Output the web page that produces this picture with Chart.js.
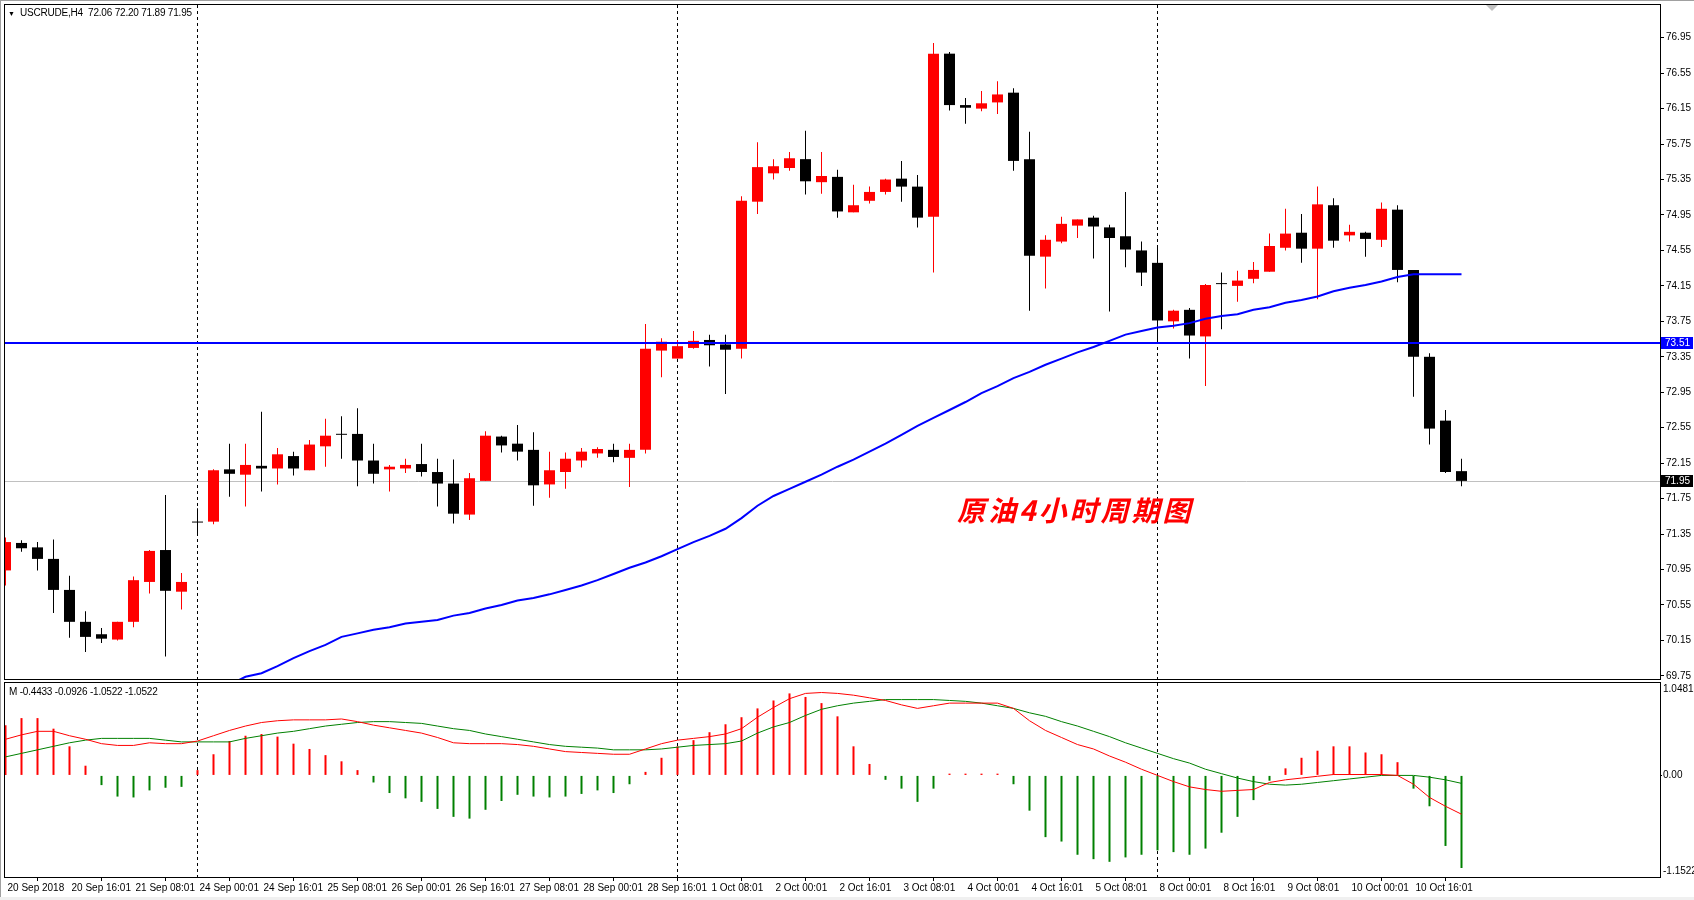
<!DOCTYPE html>
<html lang="zh">
<head>
<meta charset="UTF-8">
<title>USCRUDE,H4</title>
<script src="https://cdn.jsdelivr.net/npm/chart.js"></script>
<style>
  body { margin: 0; width: 1694px; height: 900px; overflow: hidden; position: relative; background: #fff;
         font-family: "Liberation Sans", Arial, sans-serif; }
  #main { position: absolute; left: 0; top: 0; }
  #macd { position: absolute; left: 0; top: 682px; }
  .hdr { position: absolute; font-size: 10px; color: #000; white-space: pre; line-height: 12px; letter-spacing: -0.2px; }
  #note { position: absolute; left: 957px; top: 489px; color: #f00; white-space: pre;
          font: italic bold 28px "Noto Sans CJK SC", sans-serif; letter-spacing: 3px; }
  /* window frame bits */
  .edge { position: absolute; background: #a0a0a0; }
</style>
</head>
<body>
<canvas id="main" width="1694" height="682"></canvas>
<canvas id="macd" width="1694" height="218"></canvas>
<div class="edge" style="left:0; top:0; width:1694px; height:1px;"></div>
<div class="edge" style="left:0; top:0; width:1px; height:900px;"></div>
<div class="edge" style="left:0; top:897px; width:1694px; height:3px; background:#f0f0f0;"></div>
<div class="hdr" style="left:8px; top:7px;"><span style="font-size:7px">▼</span>  USCRUDE,H4  72.06 72.20 71.89 71.95</div>
<div class="hdr" style="left:9px; top:686px;">M -0.4433 -0.0926 -1.0522 -1.0522</div>
<div id="note">原油4小时周期图</div>

<script>
// ---- data: one entry per 4h bar, 20 Sep 2018 00:00 .. 11 Oct 2018 04:00 ----
const opens  = [70.94,71.25,71.20,71.07,70.72,70.36,70.22,70.16,70.36,70.81,71.17,70.70,
                71.48,71.49,72.08,72.02,72.12,72.09,72.23,72.07,72.34,72.47,72.48,72.18,
                72.08,72.09,72.14,72.05,71.92,71.57,71.95,72.45,72.37,72.30,71.91,72.05,
                72.18,72.26,72.30,72.21,72.30,73.42,73.33,73.45,73.54,73.49,73.44,75.10,
                75.42,75.48,75.58,75.32,75.38,74.98,75.11,75.21,75.36,75.27,74.93,76.77,
                76.19,76.15,76.22,76.33,75.58,74.48,74.65,74.83,74.92,74.81,74.71,74.55,
                74.41,73.75,73.88,73.58,74.17,74.15,74.23,74.31,74.58,74.75,74.57,75.06,
                74.72,74.75,74.67,75.01,74.33,73.35,72.63,72.06];
const highs  = [71.31,71.28,71.26,71.29,70.88,70.48,70.29,70.36,70.87,71.17,71.79,70.91,
                71.64,72.08,72.37,72.37,72.73,72.32,72.28,72.41,72.65,72.68,72.77,72.37,
                72.13,72.20,72.37,72.20,72.19,72.04,72.51,72.46,72.58,72.50,72.28,72.27,
                72.32,72.33,72.37,72.37,73.72,73.56,73.54,73.64,73.60,73.60,75.16,75.77,
                75.58,75.66,75.90,75.66,75.46,75.29,75.27,75.36,75.56,75.40,76.89,76.79,
                76.27,76.35,76.46,76.38,75.89,74.72,74.93,74.90,74.94,74.84,75.21,74.65,
                74.58,73.88,73.90,74.17,74.30,74.32,74.42,74.74,75.02,74.96,75.27,75.14,
                74.84,74.76,75.09,75.06,74.33,73.39,72.75,72.20];
const lows   = [70.77,71.15,70.94,70.46,70.18,70.02,70.12,70.15,70.30,70.68,69.97,70.50,
                71.34,71.46,71.77,71.66,71.83,71.91,72.01,72.07,72.11,72.20,71.89,71.92,
                71.83,72.04,72.00,71.66,71.47,71.51,71.95,72.27,72.18,71.67,71.76,71.86,
                72.10,72.21,72.16,71.88,72.26,73.12,73.33,73.44,73.24,72.93,73.33,74.96,
                75.35,75.45,75.18,75.19,74.92,74.98,75.08,75.18,75.10,74.81,74.30,76.13,
                75.98,76.12,76.09,75.45,73.87,74.12,74.63,74.69,74.46,73.86,74.36,74.15,
                73.52,73.67,73.33,73.02,73.66,73.97,74.18,74.31,74.55,74.41,74.00,74.58,
                74.65,74.48,74.59,74.19,72.90,72.36,72.04,71.89];
const closes = [71.26,71.19,71.07,70.72,70.36,70.19,70.17,70.36,70.83,71.16,70.71,70.81,
                71.48,72.07,72.03,72.13,72.09,72.25,72.09,72.36,72.46,72.47,72.18,72.03,
                72.11,72.13,72.05,71.92,71.58,71.98,72.46,72.35,72.28,71.90,72.07,72.20,
                72.28,72.31,72.22,72.30,73.44,73.52,73.47,73.53,73.48,73.43,75.11,75.49,
                75.50,75.59,75.33,75.39,74.99,75.06,75.21,75.35,75.27,74.92,76.77,76.19,
                76.16,76.21,76.31,75.56,74.49,74.67,74.85,74.90,74.82,74.69,74.56,74.30,
                73.76,73.87,73.59,74.16,74.17,74.21,74.33,74.60,74.74,74.57,75.07,74.66,
                74.76,74.68,75.02,74.33,73.35,72.54,72.05,71.95];
// moving average (blue), bars 14..91
const maStart = 14;
const maValues = [69.65,69.74,69.78,69.86,69.95,70.03,70.10,70.19,70.23,70.27,70.30,70.34,
                  70.36,70.38,70.43,70.46,70.51,70.55,70.60,70.63,70.67,70.72,70.77,70.83,
                  70.90,70.97,71.03,71.10,71.18,71.26,71.33,71.41,71.53,71.67,71.78,71.86,
                  71.94,72.02,72.11,72.19,72.28,72.37,72.47,72.57,72.66,72.75,72.84,72.94,
                  73.02,73.11,73.18,73.26,73.33,73.40,73.46,73.53,73.60,73.64,73.68,73.70,
                  73.73,73.78,73.81,73.83,73.88,73.91,73.96,73.99,74.03,74.09,74.13,74.16,
                  74.20,74.25,74.28,74.28,74.28,74.28];
// MACD panel
const macdHist = [0.57,0.65,0.65,0.53,0.33,0.11,-0.11,-0.24,-0.25,-0.17,-0.14,-0.13,
                  0.06,0.24,0.39,0.45,0.47,0.44,0.36,0.30,0.23,0.16,0.06,-0.08,
                  -0.20,-0.26,-0.30,-0.38,-0.47,-0.49,-0.39,-0.29,-0.22,-0.24,-0.25,-0.24,
                  -0.21,-0.17,-0.20,-0.10,0.04,0.20,0.33,0.40,0.49,0.58,0.66,0.76,
                  0.85,0.93,0.89,0.82,0.67,0.33,0.13,-0.05,-0.15,-0.30,-0.15,0.02,
                  0.02,0.02,0.02,-0.10,-0.40,-0.70,-0.75,-0.90,-0.95,-0.98,-0.93,-0.90,
                  -0.85,-0.87,-0.90,-0.83,-0.65,-0.47,-0.28,-0.06,0.08,0.20,0.28,0.33,
                  0.33,0.26,0.24,0.15,-0.15,-0.35,-0.80,-1.05];
const macdRed  = [0.41,0.46,0.50,0.50,0.45,0.41,0.36,0.34,0.34,0.37,0.36,0.36,
                  0.39,0.45,0.51,0.56,0.60,0.62,0.63,0.63,0.63,0.64,0.61,0.57,
                  0.54,0.51,0.48,0.43,0.37,0.36,0.36,0.36,0.35,0.33,0.30,0.27,
                  0.26,0.25,0.24,0.24,0.30,0.36,0.40,0.42,0.44,0.47,0.53,0.66,
                  0.77,0.87,0.93,0.94,0.93,0.91,0.88,0.85,0.80,0.76,0.79,0.82,
                  0.82,0.82,0.82,0.76,0.62,0.51,0.43,0.35,0.30,0.22,0.15,0.07,
                  0.00,-0.07,-0.13,-0.16,-0.18,-0.17,-0.16,-0.08,-0.05,-0.03,-0.01,0.01,
                  0.01,0.01,0.01,0.00,-0.10,-0.25,-0.35,-0.44];
const macdGreen = [0.21,0.25,0.29,0.33,0.37,0.40,0.42,0.42,0.42,0.42,0.40,0.38,
                  0.38,0.38,0.38,0.42,0.45,0.48,0.50,0.53,0.56,0.58,0.60,0.61,
                  0.61,0.60,0.59,0.56,0.53,0.51,0.47,0.44,0.41,0.38,0.35,0.33,
                  0.32,0.31,0.29,0.29,0.29,0.30,0.32,0.34,0.35,0.36,0.39,0.48,
                  0.55,0.60,0.68,0.75,0.79,0.82,0.84,0.86,0.86,0.86,0.86,0.85,
                  0.84,0.82,0.79,0.76,0.71,0.67,0.61,0.56,0.50,0.44,0.37,0.31,
                  0.25,0.19,0.14,0.07,0.02,-0.03,-0.07,-0.10,-0.11,-0.10,-0.08,-0.06,
                  -0.04,-0.02,0.00,0.00,0.00,-0.02,-0.05,-0.09];
// ticks and labels
const priceTicks = [76.95,76.55,76.15,75.75,75.35,74.95,74.55,74.15,73.75,73.35,
                    72.95,72.55,72.15,71.75,71.35,70.95,70.55,70.15,69.75];
const timeLabels = ['20 Sep 2018','20 Sep 16:01','21 Sep 08:01','24 Sep 00:01','24 Sep 16:01',
  '25 Sep 08:01','26 Sep 00:01','26 Sep 16:01','27 Sep 08:01','28 Sep 00:01','28 Sep 16:01',
  '1 Oct 08:01','2 Oct 00:01','2 Oct 16:01','3 Oct 08:01','4 Oct 00:01','4 Oct 16:01',
  '5 Oct 08:01','8 Oct 00:01','8 Oct 16:01','9 Oct 08:01','10 Oct 00:01','10 Oct 16:01'];
const labelEvery = 4;          // one time label every 4 bars
const weekStarts = [12, 42, 72]; // dashed separators (Monday 00:00)
const levelLine = 73.51;       // horizontal line
const lastPrice = 71.95;       // bid line
const macdTickLabels = ['1.0481', '0.00', '-1.1522'];
const macdMax = 1.0481, macdMin = -1.1522;

// ---- build ----
Chart.defaults.font.family = '"Liberation Sans", Arial, sans-serif';
Chart.defaults.font.size = 10;
Chart.defaults.color = '#000';

const idx = closes.map((_, i) => i);
const candleColor = idx.map(i => closes[i] > opens[i] ? '#ff0000' : '#000000');
const xRange = { type: 'linear', min: -0.03125, max: 103.40625, offset: false };

// scale label padding would shrink the plot area; MT4 lets labels overhang
const noPad = s => { s.paddingTop = 0; s.paddingBottom = 0; s.paddingLeft = 0; s.paddingRight = 0; };

const framePlugin = {
  id: 'frame',
  beforeDatasetsDraw(chart) {
    const { ctx, chartArea: a, scales } = chart;
    ctx.save();
    ctx.strokeStyle = '#000';
    ctx.lineWidth = 1;
    ctx.setLineDash([3, 3]);
    weekStarts.forEach(i => {
      const px = scales.x.getPixelForValue(i);
      ctx.beginPath(); ctx.moveTo(px, a.top); ctx.lineTo(px, a.bottom); ctx.stroke();
    });
    ctx.setLineDash([]);
    if (chart.options.plugins.frame.bidLine) {
      const py = Math.round(scales.y.getPixelForValue(lastPrice)) + 0.5;
      ctx.strokeStyle = '#c0c0c0';
      ctx.beginPath(); ctx.moveTo(a.left, py); ctx.lineTo(a.right, py); ctx.stroke();
    }
    ctx.restore();
  },
  afterDraw(chart) {
    const { ctx, chartArea: a, scales } = chart;
    ctx.save();
    const opt = chart.options.plugins.frame;
    if (opt.bidLine) {
      const lv = Math.round(scales.y.getPixelForValue(levelLine));
      ctx.fillStyle = '#0000ff';
      ctx.fillRect(a.left, lv - 1, a.right - a.left, 2);
      const tag = (v, bg) => {
        const py = Math.round(scales.y.getPixelForValue(v));
        ctx.fillStyle = bg;
        ctx.fillRect(a.right + 1, py - 6, 32, 12);
        ctx.fillStyle = '#fff';
        ctx.font = '10px "Liberation Sans", Arial, sans-serif';
        ctx.textBaseline = 'middle';
        ctx.fillText(v.toFixed(2), a.right + 5, py);
      };
      tag(levelLine, '#0000ff');
      tag(lastPrice, '#000000');
      // chart shift marker
      ctx.fillStyle = '#c0c0c0';
      ctx.beginPath(); ctx.moveTo(1486, a.top); ctx.lineTo(1498, a.top); ctx.lineTo(1492, a.top + 6); ctx.fill();
    }
    ctx.strokeStyle = '#000';
    ctx.lineWidth = 1;
    ctx.strokeRect(a.left - 0.5, a.top - 0.5, a.right - a.left + 1, a.bottom - a.top + 1);
    ctx.restore();
  }
};

new Chart(document.getElementById('main'), {
  type: 'bar',
  data: {
    datasets: [
      {
        type: 'line', label: 'MA', order: 0,
        data: maValues.map((v, k) => ({ x: maStart + k, y: v })),
        borderColor: '#0000ff', borderWidth: 2, pointRadius: 0, tension: 0
      },
      {
        label: 'body', order: 1, grouped: false,
        data: idx.map(i => ({ x: i, y: [opens[i], closes[i]] })),
        backgroundColor: candleColor, barThickness: 11, minBarLength: 1,
        borderWidth: 0, inflateAmount: 0
      },
      {
        label: 'wick', order: 2, grouped: false,
        data: idx.map(i => ({ x: i, y: [lows[i], highs[i]] })),
        backgroundColor: candleColor, barThickness: 1,
        borderWidth: 0, inflateAmount: 0
      }
    ]
  },
  options: {
    responsive: false,
    animation: false,
    layout: { padding: { left: 5, top: 5, right: 0, bottom: 3 } },
    plugins: { legend: { display: false }, tooltip: { enabled: false }, frame: { bidLine: true } },
    scales: {
      x: Object.assign({ display: false }, xRange),
      y: {
        position: 'right',
        min: 69.715, max: 77.319,
        afterBuildTicks: s => { s.ticks = priceTicks.map(v => ({ value: v })); },
        afterFit: s => { s.width = 34; noPad(s); },
        ticks: { padding: 2, callback: v => v.toFixed(2) },
        grid: { drawOnChartArea: false, tickLength: 4, color: '#000' },
        border: { display: false }
      }
    }
  },
  plugins: [framePlugin]
});

new Chart(document.getElementById('macd'), {
  type: 'bar',
  data: {
    datasets: [
      {
        type: 'line', label: 'MACD', order: 0,
        data: idx.map(i => ({ x: i, y: macdRed[i] })),
        borderColor: '#ff0000', borderWidth: 1, pointRadius: 0, tension: 0
      },
      {
        type: 'line', label: 'Signal', order: 1,
        data: idx.map(i => ({ x: i, y: macdGreen[i] })),
        borderColor: '#008000', borderWidth: 1, pointRadius: 0, tension: 0
      },
      {
        label: 'Hist', order: 2,
        data: idx.map(i => ({ x: i, y: macdHist[i] })),
        backgroundColor: macdHist.map(v => v >= 0 ? '#ff0000' : '#008000'),
        barThickness: 2, borderWidth: 0, inflateAmount: 0
      }
    ]
  },
  options: {
    responsive: false,
    animation: false,
    layout: { padding: { left: 5, top: 1, right: 0, bottom: 0 } },
    plugins: { legend: { display: false }, tooltip: { enabled: false }, frame: { bidLine: false } },
    scales: {
      x: Object.assign({
        display: true,
        afterBuildTicks: s => { s.ticks = timeLabels.map((_, k) => ({ value: k * labelEvery })); },
        afterFit: s => { s.height = 23; noPad(s); },
        ticks: {
          align: 'start', labelOffset: 2, padding: 1, autoSkip: false, maxRotation: 0,
          callback: v => timeLabels[v / labelEvery]
        },
        grid: { drawOnChartArea: false, tickLength: 4, color: '#000' },
        border: { display: false }
      }, xRange),
      y: {
        position: 'right',
        min: macdMin, max: macdMax,
        afterBuildTicks: s => { s.ticks = [0.98, 0, -1.084].map(v => ({ value: v })); },
        afterFit: s => { s.width = 34; noPad(s); },
        ticks: { padding: 1, callback: (v, k) => macdTickLabels[k] },
        grid: { drawOnChartArea: false, tickLength: 2, tickColor: c => c.tick && c.tick.value === 0 ? '#000' : 'rgba(0,0,0,0)' },
        border: { display: false }
      }
    }
  },
  plugins: [framePlugin]
});
</script>
</body>
</html>
